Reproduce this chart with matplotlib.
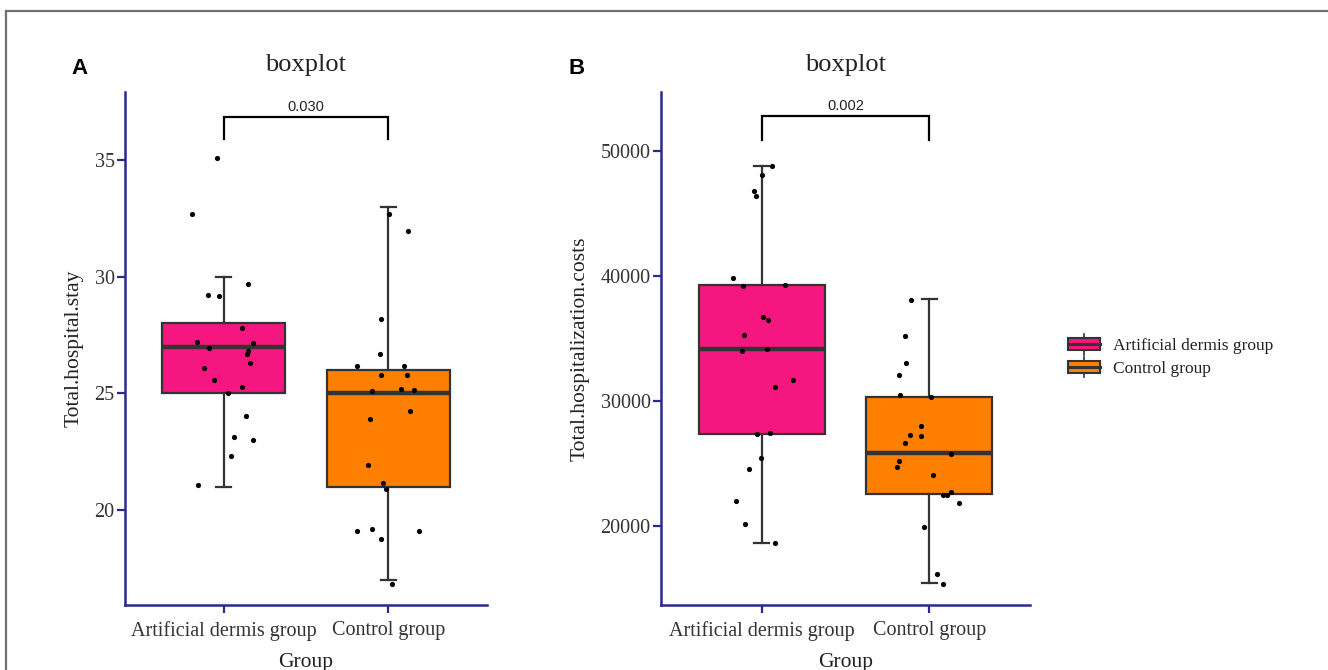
import matplotlib
matplotlib.use("Agg")
import matplotlib.pyplot as plt
from matplotlib.patches import Rectangle
from matplotlib.lines import Line2D
from matplotlib.legend_handler import HandlerBase

# ---------------- data ----------------
groups = ["Artificial dermis group", "Control group"]
colors = ["#F5177F", "#FF8000"]

# Panel A: Total.hospital.stay
stay_art = [35.08, 32.70, 29.67, 29.23, 29.18, 27.78, 27.21, 27.17, 26.94, 26.83, 26.68,
            26.28, 26.10, 25.58, 25.27, 25.03, 24.04, 23.13, 22.98, 22.33, 21.06]
stay_art_jit = [-0.043, -0.191, 0.146, -0.098, -0.029, 0.110, -0.161, 0.177, -0.091, 0.150, 0.144,
                0.159, -0.122, -0.059, 0.110, 0.026, 0.134, 0.065, 0.177, 0.047, -0.154]
stay_ctl = [32.67, 31.95, 28.17, 26.68, 26.15, 26.15, 25.80, 25.80, 25.10, 25.18, 25.14,
            24.25, 23.91, 21.93, 21.14, 20.91, 19.11, 19.20, 19.11, 18.77, 16.83]
stay_ctl_jit = [0.002, 0.122, -0.047, -0.053, -0.191, 0.098, -0.047, 0.114, -0.096, 0.077, 0.159,
                0.134, -0.110, -0.122, -0.035, -0.012, -0.191, -0.098, 0.185, -0.047, 0.022]
# box stats: whisker low, q1, median, q3, whisker high
stay_box_art = [21, 25, 27, 28, 30]
stay_box_ctl = [17, 21, 25, 26, 33]
stay_p = "0.030"

# Panel B: Total.hospitalization.costs
cost_art = [48773, 48107, 46800, 46400, 39813, 39173, 39253, 36720, 36453, 35307, 34000,
            34160, 31707, 31120, 27333, 27413, 25467, 24560, 22027, 20133, 18667]
cost_art_jit = [0.063, 0.000, -0.048, -0.036, -0.171, -0.109, 0.139, 0.006, 0.038, -0.103, -0.115,
                0.030, 0.188, 0.079, -0.026, 0.050, -0.006, -0.075, -0.153, -0.099, 0.079]
cost_ctl = [38107, 35227, 33013, 32107, 30453, 30320, 28000, 27253, 27200, 26613, 25787,
            25227, 24720, 24053, 22507, 22507, 22693, 21840, 19947, 16187, 15360]
cost_ctl_jit = [-0.107, -0.143, -0.137, -0.181, -0.175, 0.010, -0.052, -0.113, -0.052, -0.143, 0.131,
                -0.181, -0.192, 0.022, 0.083, 0.107, 0.131, 0.175, -0.034, 0.046, 0.083]
cost_box_art = [18667, 27387, 34187, 39280, 48827]
cost_box_ctl = [15413, 22560, 25813, 30320, 38133]
cost_p = "0.002"

stay_ticks = [20, 25, 30, 35]
cost_ticks = [20000, 30000, 40000, 50000]

# ---------------- style ----------------
SERIF = ["Liberation Serif", "DejaVu Serif"]
SANS = ["Liberation Sans", "DejaVu Sans"]
NAVY = "#2A2A8C"
EDGE = "#333333"
TXT = "#333333"

W, H = 1328, 670
fig = plt.figure(figsize=(W / 100, H / 100), dpi=100)


def px_axes(l, r, t, b):
    return fig.add_axes([l / W, 1 - b / H, (r - l) / W, (b - t) / H])


def draw_panel(ax, data, jits, boxes, ylim, ticks, ylabel, ptext, bracket):
    stats = []
    for i, bx in enumerate(boxes):
        stats.append(dict(whislo=bx[0], q1=bx[1], med=bx[2], q3=bx[3], whishi=bx[4],
                          fliers=[], label=groups[i]))
    res = ax.bxp(stats, positions=[0, 1], widths=0.75, capwidths=0.09, patch_artist=True,
                 showfliers=False,
                 boxprops=dict(edgecolor=EDGE, linewidth=1.6),
                 medianprops=dict(color=EDGE, linewidth=3.2),
                 whiskerprops=dict(color=EDGE, linewidth=1.6),
                 capprops=dict(color=EDGE, linewidth=1.6))
    for patch, c in zip(res["boxes"], colors):
        patch.set_facecolor(c)
    for i, (vals, jit) in enumerate(zip(data, jits)):
        ax.scatter([i + j for j in jit], vals, s=14, color="black", zorder=5, linewidths=0)
    ax.set_xlim(-0.6, 1.6)
    ax.set_ylim(*ylim)
    ax.set_yticks(ticks)
    ax.set_yticklabels([str(t) for t in ticks], fontfamily=SERIF, fontsize=14.5, color=TXT)
    ax.set_xticks([0, 1])
    ax.set_xticklabels(groups, fontfamily=SERIF, fontsize=14.5, color=TXT)
    for s in ["top", "right"]:
        ax.spines[s].set_visible(False)
    for s in ["left", "bottom"]:
        ax.spines[s].set_color(NAVY)
        ax.spines[s].set_linewidth(1.8)
    ax.tick_params(axis="both", colors=NAVY, width=1.6, length=5.5, labelcolor=TXT)
    ax.tick_params(axis="x", pad=6)
    ax.tick_params(axis="y", pad=2)
    ax.set_ylabel(ylabel, fontfamily=SERIF, fontsize=15.5, color="#222222", labelpad=8)
    ax.set_xlabel("Group", fontfamily=SERIF, fontsize=15.5, color="#222222", labelpad=9)
    ax.set_title("boxplot", fontfamily=SERIF, fontsize=19, color="#222222", pad=15)
    ytop, ybot = bracket
    ax.plot([0, 0, 1, 1], [ybot, ytop, ytop, ybot], color="black", lw=1.6,
            clip_on=False, solid_joinstyle="miter")
    ax.annotate(ptext, (0.5, ytop), xytext=(0, 2), textcoords="offset points",
                ha="center", va="bottom", fontfamily=SANS, fontsize=10.5, color="#222222")


axA = px_axes(125, 487, 92, 605)
draw_panel(axA, [stay_art, stay_ctl], [stay_art_jit, stay_ctl_jit],
           [stay_box_art, stay_box_ctl], (15.93, 37.91), stay_ticks,
           "Total.hospital.stay", stay_p, (36.86, 35.88))

axB = px_axes(661, 1030, 92, 605)
draw_panel(axB, [cost_art, cost_ctl], [cost_art_jit, cost_ctl_jit],
           [cost_box_art, cost_box_ctl], (13680, 54720), cost_ticks,
           "Total.hospitalization.costs", cost_p, (52800, 50900))

fig.text(80 / W, 1 - 68 / H, "A", fontfamily=SANS, fontweight="bold", fontsize=16,
         ha="center", va="center")
fig.text(577 / W, 1 - 68 / H, "B", fontfamily=SANS, fontweight="bold", fontsize=16,
         ha="center", va="center")


# legend with boxplot glyph keys
class HandlerBox(HandlerBase):
    def create_artists(self, legend, orig_handle, xdescent, ydescent, width, height,
                       fontsize, trans):
        x0, y0 = -xdescent, -ydescent
        c = orig_handle.get_facecolor()
        bh = height * 0.8
        by = y0 + (height - bh) / 2
        rect = Rectangle((x0, by), width, bh, facecolor=c, edgecolor=EDGE, lw=1.5,
                         transform=trans)
        med = Line2D([x0, x0 + width], [y0 + height / 2] * 2, color=EDGE, lw=2.2,
                     transform=trans)
        wt = Line2D([x0 + width / 2] * 2, [by + bh, y0 + height + 2], color=EDGE, lw=1.2,
                    transform=trans)
        wb = Line2D([x0 + width / 2] * 2, [by, y0 - 2], color=EDGE, lw=1.2,
                    transform=trans)
        return [rect, wt, wb, med]


handles = [Rectangle((0, 0), 1, 1, facecolor=c) for c in colors]
leg = fig.legend(handles, groups, loc="center left",
                 bbox_to_anchor=(1068 / W, 1 - 357 / H), frameon=False,
                 handler_map={Rectangle: HandlerBox()},
                 prop=dict(family=SERIF, size=12.5), handlelength=1.85,
                 handleheight=0.95, labelspacing=0.3, handletextpad=0.75,
                 borderaxespad=0, borderpad=0)
for t in leg.get_texts():
    t.set_color("#222222")

# outer frame (top and left edges)
fig.add_artist(Line2D([6 / W, 1], [1 - 11 / H, 1 - 11 / H], color="#707070", lw=1.6,
                      transform=fig.transFigure))
fig.add_artist(Line2D([6 / W, 6 / W], [0, 1 - 11 / H], color="#707070", lw=1.6,
                      transform=fig.transFigure))

fig.savefig("out.png", dpi=100, facecolor="white")
